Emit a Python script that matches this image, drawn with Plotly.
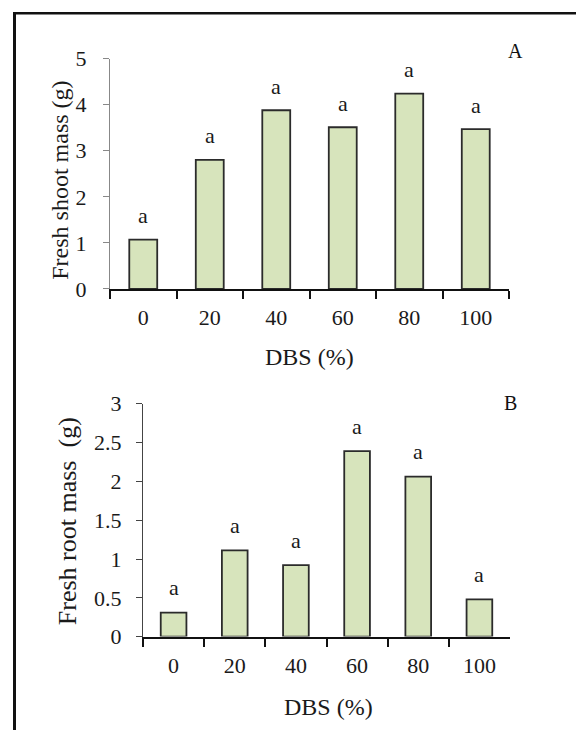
import plotly.graph_objects as go

W, H = 576, 730

categories = ["0", "20", "40", "60", "80", "100"]
shoot_mass = [1.07, 2.80, 3.88, 3.51, 4.24, 3.47]
root_mass = [0.31, 1.11, 0.92, 2.39, 2.06, 0.48]
shoot_letters = ["a", "a", "a", "a", "a", "a"]
root_letters = ["a", "a", "a", "a", "a", "a"]
shoot_ticks = [0, 1, 2, 3, 4, 5]
root_ticks = [0, 0.5, 1, 1.5, 2, 2.5, 3]
root_ticktext = ["0", "0.5", "1", "1.5", "2", "2.5", "3"]

FONT = "Liberation Serif"
FS = 22
TXT = "#1a1a1a"
BAR_FILL = "#d7e4bc"
BAR_LINE = "#2b2b2b"

# vertical calibration of the rendered page
VOFF, VSC = 8.0, 0.973


def px(x):
    return x / W


def py(y):
    return 1 - ((y - VOFF) / VSC) / H


fig = go.Figure()
fig.add_trace(go.Bar(x=categories, y=shoot_mass, xaxis="x", yaxis="y",
                     marker=dict(color=BAR_FILL, line=dict(color=BAR_LINE, width=1.8)),
                     showlegend=False))
fig.add_trace(go.Bar(x=categories, y=root_mass, xaxis="x2", yaxis="y2",
                     marker=dict(color=BAR_FILL, line=dict(color=BAR_LINE, width=1.8)),
                     showlegend=False))

xcommon = dict(type="category", range=[-0.5, 5.5], tickson="boundaries",
               ticks="outside", ticklen=8, tickwidth=2, tickcolor="#111",
               showline=True, linecolor="#111", linewidth=2, showgrid=False,
               zeroline=False, tickfont=dict(family=FONT, size=FS, color=TXT),
               ticklabelstandoff=8, fixedrange=True)

fig.update_layout(
    width=W, height=H, margin=dict(l=0, r=0, t=0, b=0),
    paper_bgcolor="white", plot_bgcolor="white",
    bargap=0.58,
    xaxis=dict(domain=[px(110), px(509)], anchor="y", **xcommon),
    xaxis2=dict(domain=[px(143), px(510)], anchor="y2", **xcommon),
    yaxis=dict(domain=[py(287), py(55)], anchor="x", range=[0, 5],
               tickvals=shoot_ticks, ticks="outside", ticklen=6, tickwidth=1,
               tickcolor="#888", showline=True, linecolor="#888", linewidth=1,
               showgrid=False, zeroline=False, ticklabelstandoff=12,
               tickfont=dict(family=FONT, size=FS, color=TXT)),
    yaxis2=dict(domain=[py(637.3), py(402.7)], anchor="x2", range=[0, 3],
                tickvals=root_ticks, ticktext=root_ticktext, ticks="outside",
                ticklen=6, tickwidth=1.2, tickcolor="#444", showline=True,
                linecolor="#444", linewidth=1.4, showgrid=False, zeroline=False,
                ticklabelstandoff=10,
                tickfont=dict(family=FONT, size=FS, color=TXT)),
)

ann = []
for i, (v, t) in enumerate(zip(shoot_mass, shoot_letters)):
    ann.append(dict(x=i, y=v, xref="x", yref="y", text=t, showarrow=False,
                    yanchor="middle", yshift=24,
                    font=dict(family=FONT, size=FS, color=TXT)))
for i, (v, t) in enumerate(zip(root_mass, root_letters)):
    ann.append(dict(x=i, y=v, xref="x2", yref="y2", text=t, showarrow=False,
                    yanchor="middle", yshift=25,
                    font=dict(family=FONT, size=FS, color=TXT)))

titles = [
    ("Fresh shoot mass (g)", 60, 178, -90, 24),
    ("Fresh root mass \u00a0(g)", 67, 521, -90, 26),
    ("DBS (%)", 309, 356, 0, 24),
    ("DBS (%)", 328, 708, 0, 24),
]
for text, x, y, ang, fs in titles:
    ann.append(dict(x=px(x), y=py(y), xref="paper", yref="paper", text=text,
                    showarrow=False, xanchor="center", yanchor="middle",
                    textangle=ang, font=dict(family=FONT, size=fs, color=TXT)))

for text, x, y in [("A", 515, 47), ("B", 510, 402)]:
    ann.append(dict(x=px(x), y=py(y), xref="paper", yref="paper", text=text,
                    showarrow=False, xanchor="center", yanchor="middle",
                    font=dict(family=FONT, size=20, color="#111")))

fig.update_layout(annotations=ann)

# outer frame (left and top edges only, as in the cropped figure)
fig.add_shape(type="line", xref="paper", yref="paper",
              x0=px(14.5), x1=px(14.5), y0=-0.05, y1=py(8), line=dict(color="#111", width=3))
fig.add_shape(type="line", xref="paper", yref="paper",
              x0=px(13), x1=1, y0=py(9.3), y1=py(9.3), line=dict(color="#111", width=2.5))

fig.write_html("out.html")
